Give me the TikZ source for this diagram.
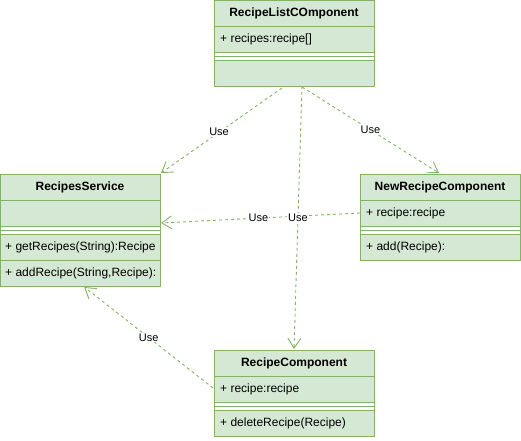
\documentclass[tikz,border=0pt]{standalone}
\usepackage{fontspec}
\setmainfont{Liberation Sans}
\usetikzlibrary{arrows.meta,calc}
\definecolor{gfill}{HTML}{D5E8D4}
\definecolor{gline}{HTML}{82B366}
\tikzset{
  x=1pt, y=-1pt,
  box/.style={draw=gline, fill=gfill, line width=1pt, inner sep=0pt, outer sep=0pt, anchor=north west},
  sepstrip/.style={fill=white, draw=none},
  divider/.style={draw=gline, line width=1pt},
  title/.style={font=\bfseries\fontsize{12}{14}\selectfont, inner sep=0pt},
  member/.style={font=\fontsize{12}{14}\selectfont, anchor=west, inner sep=0pt},
  use/.style={draw=gline, line width=0.9pt, dash pattern=on 3pt off 3pt,
    -{Straight Barb[length=10pt,width=13pt,line width=0.9pt]}},
  lbl/.style={fill=white, font=\fontsize{11}{13}\selectfont, inner sep=1pt}
}
\begin{document}
\begin{tikzpicture}
\useasboundingbox (0,0) rectangle (521,440);

% RecipeListCOmponent
\node[box, minimum width=160pt, minimum height=85.5pt] (rlc) at (214,0.5) {};
\fill[sepstrip] (214.5,52) rectangle (373.5,60);
\draw[divider] (214,26) -- (374,26) (214,52) -- (374,52) (214,56) -- (374,56) (214,60) -- (374,60);
\draw[gline, line width=1pt] (rlc.north west) rectangle (rlc.south east);
\node[title] (rlcT) at (294,13) {RecipeListCOmponent};
\node[member] (rlcA) at (220,39) {+ recipes:recipe[]};

% RecipesService
\node[box, minimum width=159.5pt, minimum height=112pt] (rs) at (0.5,174) {};
\fill[sepstrip] (1,226) rectangle (159.5,234);
\draw[divider] (0.5,200) -- (160,200) (0.5,226) -- (160,226) (0.5,230) -- (160,230) (0.5,234) -- (160,234) (0.5,260) -- (160,260);
\draw[gline, line width=1pt] (rs.north west) rectangle (rs.south east);
\node[title] (rsT) at (80,187) {RecipesService};
\node[member] (rsM1) at (5,247) {+ getRecipes(String):Recipe};
\node[member] (rsM2) at (5,273) {+ addRecipe(String,Recipe):};

% NewRecipeComponent
\node[box, minimum width=160pt, minimum height=86pt] (nrc) at (360,174) {};
\fill[sepstrip] (360.5,226) rectangle (519.5,234);
\draw[divider] (360,200) -- (520,200) (360,226) -- (520,226) (360,230) -- (520,230) (360,234) -- (520,234);
\draw[gline, line width=1pt] (nrc.north west) rectangle (nrc.south east);
\node[title] (nrcT) at (440,187) {NewRecipeComponent};
\node[member] (nrcA) at (366,213) {+ recipe:recipe};
\node[member] (nrcM) at (366,247) {+ add(Recipe):};

% RecipeComponent
\node[box, minimum width=160pt, minimum height=86pt] (rc) at (214,350) {};
\fill[sepstrip] (214.5,402) rectangle (373.5,410);
\draw[divider] (214,376) -- (374,376) (214,402) -- (374,402) (214,406) -- (374,406) (214,410) -- (374,410);
\draw[gline, line width=1pt] (rc.north west) rectangle (rc.south east);
\node[title] (rcT) at (294,363) {RecipeComponent};
\node[member] (rcA) at (220,389) {+ recipe:recipe};
\node[member] (rcM) at (220,423) {+ deleteRecipe(Recipe)};

% connectors
\draw[use] ($(rlc.south)+(-12,2)$) -- node[lbl, pos=0.52] {Use} ($(rs.north east)+(1,-1)$);
\draw[use] ($(rlc.south)+(8,1)$) -- node[lbl, pos=0.5] {Use} ($(nrc.north)+(-1,-1)$);
\draw[use] ($(nrc.west)+(0,-4)$) -- node[lbl, pos=0.51] {Use} ($(rs.east)+(1,-7)$);
\draw[use] ($(rlc.south)+(8,0)$) -- node[lbl, pos=0.5] {Use} ($(rc.north)+(0,-1)$);
\draw[use] ($(rc.west)+(-1,-5)$) -- node[lbl, pos=0.5] {Use} ($(rs.south)+(4,1)$);
\end{tikzpicture}
\end{document}
